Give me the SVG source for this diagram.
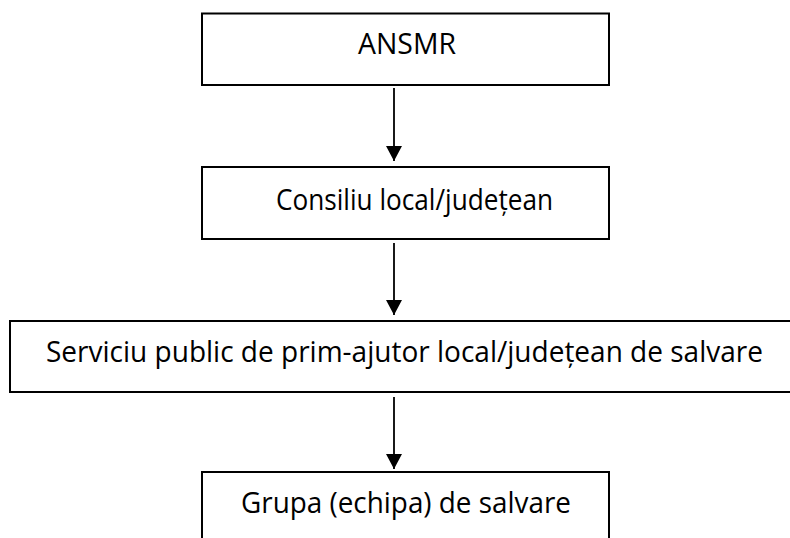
<svg xmlns="http://www.w3.org/2000/svg" width="790" height="538" viewBox="0 0 790 538">
<defs>
<style>
.box{fill:#ffffff;stroke:#000000;stroke-width:2}
.lbl{font-family:"Open Sans","Noto Sans","Liberation Sans",sans-serif;font-size:29px;fill:#000000;text-anchor:middle}
.conn{stroke:#000000;stroke-width:1.8;fill:none}
</style>
<marker id="ah" markerWidth="15" markerHeight="16" refX="15" refY="8" orient="auto" markerUnits="userSpaceOnUse">
<path d="M0,0 L15,8 L0,16 Z" fill="#000000"/>
</marker>
</defs>
<rect width="790" height="538" fill="#ffffff"/>
<g id="connectors">
<line class="conn" x1="394" y1="88" x2="394" y2="161" marker-end="url(#ah)"/>
<line class="conn" x1="394" y1="243" x2="394" y2="315" marker-end="url(#ah)"/>
<line class="conn" x1="394" y1="397" x2="394" y2="469" marker-end="url(#ah)"/>
</g>
<g id="ansmr">
<rect class="box" x="202" y="13.5" width="407" height="71.5"/>
<text class="lbl" x="407" y="54" textLength="98" lengthAdjust="spacingAndGlyphs">ANSMR</text>
</g>
<g id="consiliu">
<rect class="box" x="202" y="167" width="407" height="72"/>
<text class="lbl" x="414.5" y="210" textLength="277" lengthAdjust="spacingAndGlyphs">Consiliu local/județean</text>
</g>
<g id="serviciu">
<rect class="box" x="10" y="321" width="800" height="71"/>
<text class="lbl" x="404.5" y="362" textLength="717" lengthAdjust="spacingAndGlyphs">Serviciu public de prim-ajutor local/județean de salvare</text>
</g>
<g id="grupa">
<rect class="box" x="202" y="472" width="407" height="90"/>
<text class="lbl" x="406" y="513" textLength="330" lengthAdjust="spacingAndGlyphs">Grupa (echipa) de salvare</text>
</g>
</svg>
